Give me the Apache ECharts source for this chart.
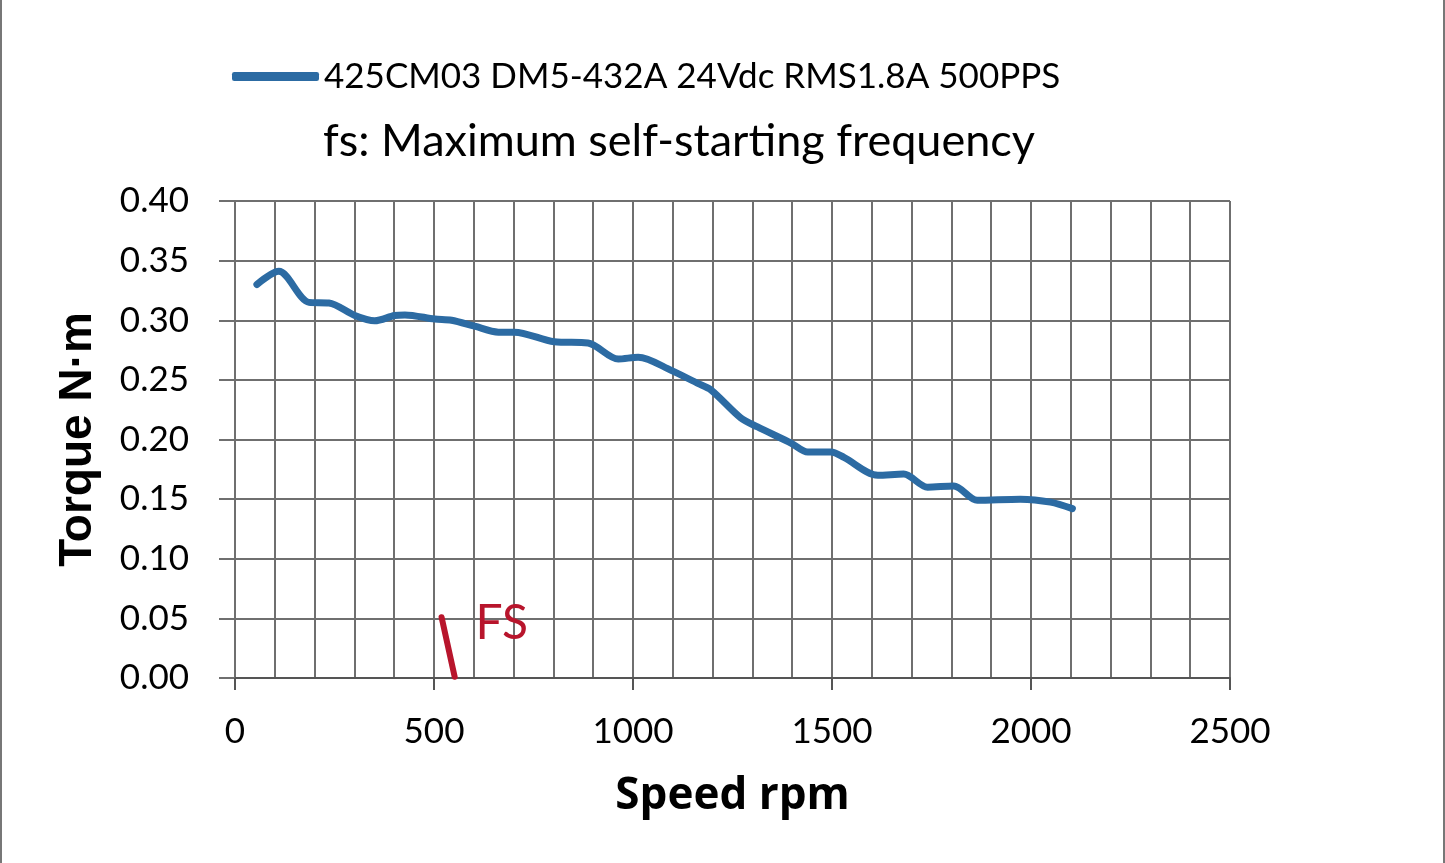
<!DOCTYPE html>
<html>
<head>
<meta charset="utf-8">
<script src="https://cdn.jsdelivr.net/npm/echarts@6/dist/echarts.min.js"></script>
<style>
  html, body { margin: 0; padding: 0; background: #fff; }
  #main { width: 1441px; height: 863px; border-left: 2px solid #777; border-right: 2px solid #777; }
</style>
</head>
<body>
<div id="main"></div>
<script>
    // speed (rpm) and torque (N·m)
    var speed = [55, 110, 186, 236, 301, 351, 401, 427, 502, 544, 602, 662, 702, 802, 887,
        963, 1013, 1096, 1163, 1196, 1271, 1313, 1397, 1439, 1497, 1530, 1615, 1680, 1740,
        1806, 1865, 1973, 2049, 2104];
    var torque = [0.330, 0.341, 0.315, 0.3145, 0.304, 0.2995, 0.304, 0.3045, 0.301, 0.300, 0.295,
        0.290, 0.290, 0.282, 0.281, 0.2675, 0.269, 0.258, 0.247, 0.2415, 0.218, 0.2105, 0.197,
        0.1895, 0.1895, 0.185, 0.170, 0.171, 0.160, 0.161, 0.149, 0.150, 0.1475, 0.142];
    // FS marker line
    var fsSpeed = [519, 552];
    var fsTorque = [0.051, 0.001];

    var seriesName = '425CM03 DM5-432A 24Vdc RMS1.8A 500PPS';
    var curve = speed.map(function (s, i) { return [s, torque[i]]; });
    var fsLine = fsSpeed.map(function (s, i) { return [s, fsTorque[i]]; });

    var font = 'Lato, "Open Sans", sans-serif';
    var myChart = echarts.init(document.getElementById('main'));
    myChart.setOption({
        animation: false,
        title: {
            text: 'fs: Maximum self-starting frequency',
            left: 316, top: 114,
            textStyle: { fontFamily: font, fontSize: 45, fontWeight: 'normal', color: '#000' }
        },
        legend: {
            data: [seriesName],
            left: 225, top: 54,
            itemWidth: 87, itemHeight: 9, itemGap: 4,
            icon: 'roundRect',
            textStyle: { fontFamily: font, fontSize: 35, color: '#000' }
        },
        grid: { left: 233, right: 213, top: 201, bottom: 185 },
        xAxis: {
            type: 'value', min: 0, max: 2500, interval: 500,
            name: 'Speed rpm', nameLocation: 'middle', nameGap: 96,
            nameTextStyle: { fontFamily: '"Open Sans", sans-serif', fontSize: 44, fontWeight: 'bold', color: '#000' },
            axisLine: { show: true, lineStyle: { color: '#555', width: 2 } },
            axisTick: { show: true, length: 12, lineStyle: { color: '#555', width: 2 } },
            axisLabel: {
                fontFamily: font, fontSize: 35, color: '#000', margin: 36,
                formatter: function (v) { return String(v); }
            },
            splitLine: { show: true, lineStyle: { color: '#6f6f6f', width: 2 } },
            minorTick: { show: false, splitNumber: 5 },
            minorSplitLine: { show: true, lineStyle: { color: '#6f6f6f', width: 2 } }
        },
        yAxis: {
            type: 'value', min: 0, max: 0.4, interval: 0.05,
            name: 'Torque N·m', nameLocation: 'middle', nameGap: 134,
            nameTextStyle: { fontFamily: '"Liberation Sans", Arial, sans-serif', fontSize: 46, fontWeight: 'bold', color: '#000' },
            axisLine: { show: true, lineStyle: { color: '#6f6f6f', width: 2 } },
            axisTick: { show: true, length: 16, lineStyle: { color: '#6f6f6f', width: 2 } },
            axisLabel: {
                fontFamily: font, fontSize: 35, color: '#000', margin: 46,
                formatter: function (v) { return v.toFixed(2); }
            },
            splitLine: { show: true, lineStyle: { color: '#6f6f6f', width: 2 } }
        },
        series: [
            {
                name: seriesName,
                type: 'line',
                data: curve,
                smooth: 0.3,
                symbol: 'none',
                color: '#2c6ba3',
                lineStyle: { width: 7, color: '#2c6ba3', cap: 'round', join: 'round' }
            },
            {
                name: 'FS',
                type: 'line',
                data: fsLine,
                symbol: 'none',
                color: '#b8152c',
                lineStyle: { width: 6, color: '#b8152c', cap: 'round' },
                markPoint: {
                    symbol: 'circle', symbolSize: 0,
                    data: [{ coord: fsLine[0], value: 'FS' }],
                    label: {
                        show: true, position: 'right', distance: 0, offset: [34, 6],
                        formatter: 'FS',
                        fontFamily: font, fontSize: 48, color: '#b8152c'
                    }
                }
            }
        ]
    });
</script>
</body>
</html>
